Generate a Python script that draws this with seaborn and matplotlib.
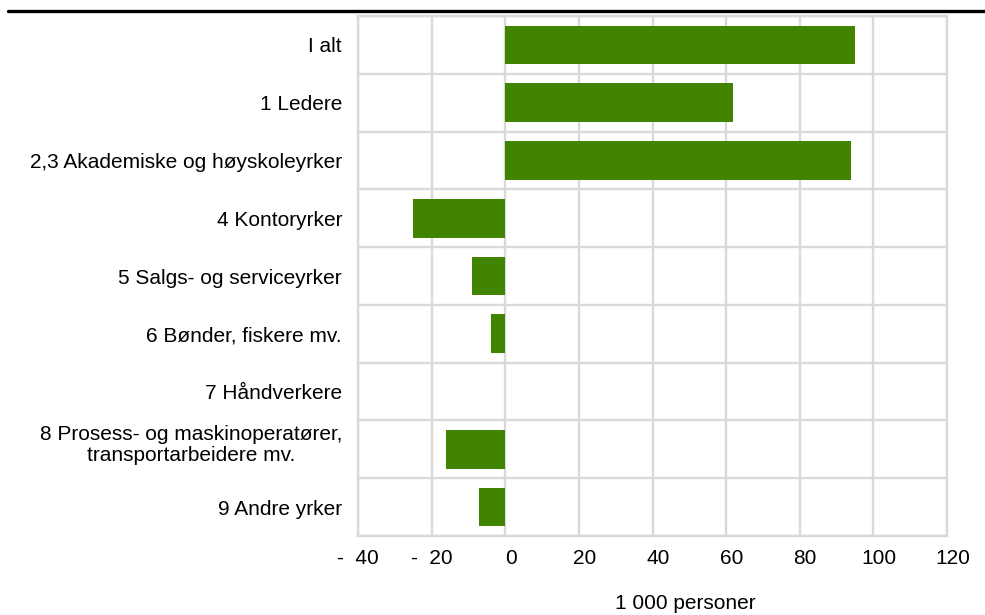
import matplotlib
matplotlib.use("Agg")
import matplotlib.pyplot as plt
import matplotlib.transforms as mtransforms
from matplotlib.lines import Line2D
import seaborn as sns
import pandas as pd

categories = [
    "I alt",
    "1 Ledere",
    "2,3 Akademiske og høyskoleyrker",
    "4 Kontoryrker",
    "5 Salgs- og serviceyrker",
    "6 Bønder, fiskere mv.",
    "7 Håndverkere",
    "8 Prosess- og maskinoperatører,\ntransportarbeidere mv.",
    "9 Andre yrker",
]
values = [95, 62, 94, -25, -9, -4, 0, -16, -7]
x_ticks = [-40, -20, 0, 20, 40, 60, 80, 100, 120]
x_tick_labels = ["-  40", "-  20", "0", "20", "40", "60", "80", "100", "120"]
x_label = "1 000 personer"

df = pd.DataFrame({"kategori": categories, "endring": values})

sns.set_theme(style="white")
plt.rcParams["font.family"] = ["Liberation Sans", "DejaVu Sans"]
FS = 15

fig = plt.figure(figsize=(9.85, 6.15), dpi=100)
ax = fig.add_axes([358 / 985, 1 - 536 / 615, (947 - 358) / 985, (536 - 16) / 615])

sns.barplot(data=df, x="endring", y="kategori", orient="h", color="#408400",
            saturation=1, width=0.67, linewidth=0, ax=ax)

grid_c = "#d9d9d9"
ax.set_xlim(-40, 120)
ax.set_ylim(len(categories) - 0.5, -0.5)
ax.set_xticks(x_ticks)
ax.set_xticklabels(x_tick_labels, fontsize=FS, color="black")
ax.set_yticks(range(len(categories)))
ax.set_yticklabels(categories, fontsize=FS, color="black", ha="right",
                   multialignment="center", linespacing=1.1)
ax.set_yticks([i + 0.5 for i in range(-1, len(categories))], minor=True)
ax.tick_params(axis="both", which="both", length=0)
ax.tick_params(axis="y", pad=11.5)
ax.tick_params(axis="x", pad=9)

ax.grid(False)
ax.xaxis.grid(True, which="major", color=grid_c, linewidth=1.7)
ax.yaxis.grid(True, which="minor", color=grid_c, linewidth=1.7)
ax.set_axisbelow(True)
for s in ax.spines.values():
    s.set_visible(True)
    s.set_color(grid_c)
    s.set_linewidth(1.7)

# shift positive tick labels slightly right (as in reference)
shift = mtransforms.ScaledTranslation(5.5 / 100, 0, fig.dpi_scale_trans)
for v, lab in zip(x_ticks, ax.get_xticklabels()):
    if v >= 0:
        lab.set_transform(lab.get_transform() + shift)

# two-line label sits slightly higher in the reference
up = mtransforms.ScaledTranslation(0, 7 / 100, fig.dpi_scale_trans)
for lab in ax.get_yticklabels():
    if "\n" in lab.get_text():
        lab.set_transform(lab.get_transform() + up)

ax.set_ylabel("")
ax.set_xlabel(x_label, fontsize=FS, color="black")
ax.xaxis.set_label_coords((685 - 358) / 589, -0.111)

fig.add_artist(Line2D([8 / 985, 1.0], [1 - 10.5 / 615] * 2, color="black",
                      linewidth=2.4, transform=fig.transFigure))

fig.savefig("out.png", dpi=100)
